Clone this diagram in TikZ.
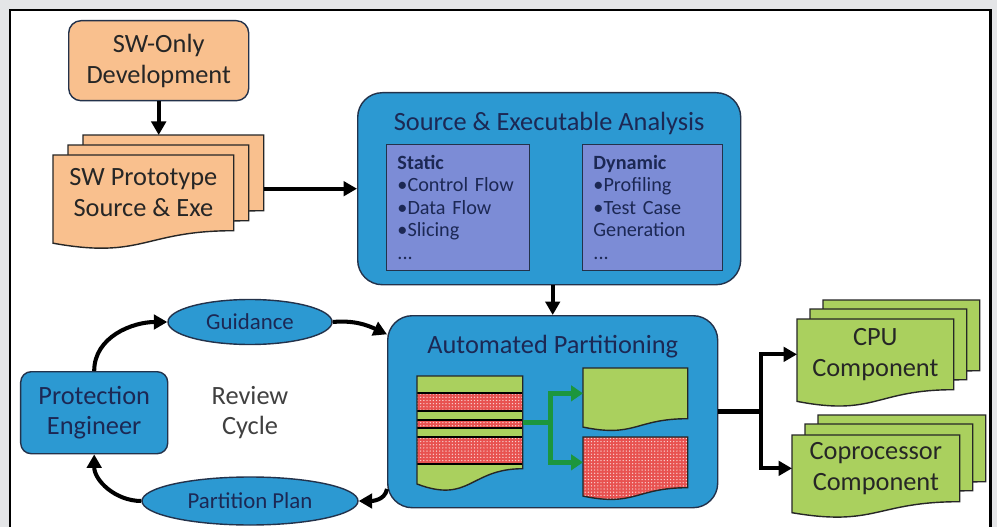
\documentclass[tikz,border=0pt]{standalone}
\usepackage{fontspec}
\setmainfont{Carlito}
\usetikzlibrary{arrows.meta,positioning,calc,shapes.geometric,backgrounds,patterns}
\definecolor{framegray}{RGB}{228,229,231}
\definecolor{docorange}{RGB}{249,192,142}
\definecolor{docgreen}{RGB}{170,208,94}
\definecolor{partred}{RGB}{232,82,80}
\definecolor{boxblue}{RGB}{44,153,210}
\definecolor{innerblue}{RGB}{124,140,214}
\definecolor{navytext}{RGB}{28,40,84}
\definecolor{edgeline}{RGB}{35,50,75}
\definecolor{splitgreen}{RGB}{28,150,62}
% fine speckle for the coprocessor parts
\pgfdeclarepatternformonly{fine dots}{\pgfqpoint{-1pt}{-1pt}}{\pgfqpoint{1pt}{1pt}}{\pgfqpoint{1.8pt}{1.8pt}}{%
  \pgfpathcircle{\pgfqpoint{0pt}{0pt}}{0.4pt}\pgfusepath{fill}}
% document sheet with wavy bottom: #1 command, #2 node, #3 offset
\newcommand{\docpath}[3]{%
  #1 ($(#2.north west)+#3$) -- ($(#2.north east)+#3$) -- ($(#2.south east)+#3$)
    .. controls ($(#2.south)+#3$) and ($(#2.north)!1.38!(#2.south)+#3$)
    .. ($(#2.north west)!1.165!(#2.south west)+#3$) -- cycle;}
\tikzset{
  bigfont/.style={font=\fontsize{15}{17.5}\selectfont},
  bluebox/.style={draw=edgeline, line width=0.8pt, fill=boxblue, text=navytext, align=center, inner sep=0pt, anchor=north west, bigfont},
  orangebox/.style={bluebox, fill=docorange, text=black!85},
  listbox/.style={draw=edgeline, line width=0.5pt, fill=innerblue, text=navytext, align=left, inner xsep=0.22cm, inner ysep=0pt, anchor=north west, font=\fontsize{11.5}{12.8}\selectfont},
  blueoval/.style={ellipse, draw=edgeline, line width=0.8pt, fill=boxblue, text=navytext, inner sep=0pt, font=\fontsize{13}{15}\selectfont},
  docbox/.style={anchor=north west, inner sep=0pt, align=center, text=black!85, bigfont},
  docline/.style={draw=black!85, line width=0.8pt},
  speckle/.style={pattern=fine dots, pattern color=white!75!partred},
  arrow/.style={-{Triangle[length=2.7mm,width=2.9mm]}, line width=2.3pt},
  greenarrow/.style={-{Triangle[length=2.4mm,width=3.1mm]}, line width=3pt, draw=splitgreen}
}
\begin{document}
\begin{tikzpicture}
\useasboundingbox (0,0) rectangle (19.94,-10.54);
\begin{scope}[on background layer]
  \fill[framegray] (0,0) rectangle (19.94,-10.54);
  \filldraw[fill=white, line width=1.7pt] (0.2,-10.8) |- (19.8,-0.2) -- (19.8,-10.8);
\end{scope}

% software side
\node[orangebox, rounded corners=7pt, minimum width=3.6cm, minimum height=1.6cm] (swonly) at (1.36,-0.4) {SW-Only\\Development};
\node[docbox, minimum width=3.6cm, minimum height=1.5cm] (proto) at (1.06,-3.1) {SW Prototype\\Source \& Exe};

% analysis
\node[bluebox, rounded corners=14pt, minimum width=7.66cm, minimum height=3.84cm] (analysis) at (7.14,-1.84) {};
\node[bigfont, text=navytext] (analysistitle) at ($(analysis.north)+(0,-0.62)$) {Source \& Executable Analysis};
\node[listbox, text width=2.42cm, minimum height=2.52cm] (static) at (7.72,-2.88) {\textbf{Static}\\•Control Flow\\•Data Flow\\•Slicing\\...};
\node[listbox, text width=2.36cm, minimum height=2.52cm] (dynamic) at (11.64,-2.88) {\textbf{Dynamic}\\•Profiling\\•Test Case\\Generation\\...};

% partitioning
\node[bluebox, rounded corners=14pt, minimum width=6.6cm, minimum height=3.84cm] (autopart) at (7.74,-6.3) {};
\node[bigfont, text=navytext] (autotitle) at ($(autopart.north)+(0,-0.64)$) {Automated Partitioning};
\node[docbox, minimum width=2.1cm, minimum height=1.84cm] (mixed) at (8.34,-7.52) {};
\node[docbox, minimum width=2.08cm, minimum height=1.0cm] (cpupart) at (11.66,-7.36) {};
\node[docbox, minimum width=2.08cm, minimum height=1.0cm] (copart) at (11.66,-8.74) {};

\docpath{\fill[docgreen]}{mixed}{(0,0)}
\begin{scope}
  \docpath{\clip}{mixed}{(0,0)}
  \foreach \ya/\yb in {7.86/8.22, 8.40/8.56, 8.74/9.28} {
    \fill[partred] (8.34,-\ya) rectangle (10.44,-\yb);
    \fill[speckle] (8.34,-\ya) rectangle (10.44,-\yb);
    \draw[line width=0.8pt] (8.34,-\ya) -- (10.44,-\ya) (8.34,-\yb) -- (10.44,-\yb);
  }
\end{scope}
\docpath{\draw[docline]}{mixed}{(0,0)}
\docpath{\filldraw[docline, fill=docgreen]}{cpupart}{(0,0)}
\docpath{\fill[partred]}{copart}{(0,0)}
\docpath{\fill[speckle]}{copart}{(0,0)}
\docpath{\draw[docline]}{copart}{(0,0)}

\coordinate (greensplit) at ($(mixed.east)+(0.56,0)$);
\draw[line width=3pt, splitgreen] (mixed.east) -- (greensplit);
\draw[greenarrow] (greensplit) |- (cpupart.west);
\draw[greenarrow] (greensplit) |- (copart.west);

% components
\node[docbox, minimum width=3.12cm, minimum height=1.4cm] (cpu) at (15.94,-6.38) {CPU\\Component};
\node[docbox, minimum width=3.34cm, minimum height=1.32cm] (cop) at (15.84,-8.7) {Coprocessor\\Component};

\begin{scope}[on background layer]
  \foreach \dx/\dy in {0.6/0.4, 0.3/0.2, 0/0} {\docpath{\filldraw[docline, fill=docorange]}{proto}{(\dx,\dy)}}
  \foreach \dx/\dy in {0.52/0.38, 0.26/0.2, 0/0} {\docpath{\filldraw[docline, fill=docgreen]}{cpu}{(\dx,\dy)}}
  \foreach \dx/\dy in {0.52/0.4, 0.26/0.22, 0/0} {\docpath{\filldraw[docline, fill=docgreen]}{cop}{(\dx,\dy)}}
\end{scope}

% review cycle
\node[blueoval, minimum width=3.28cm, minimum height=0.9cm] (guidance) at (5.0,-6.44) {Guidance};
\node[blueoval, minimum width=4.32cm, minimum height=0.96cm] (plan) at (5.0,-10.02) {Partition Plan};
\node[bluebox, rounded corners=6pt, minimum width=2.94cm, minimum height=1.64cm] (engineer) at (0.4,-7.42) {Protection\\Engineer};
\node[bigfont, text=black!75, align=center] (review) at (5.0,-8.25) {Review\\Cycle};

% connectors
\coordinate (protoback) at ($(proto.north)+(0.6,0.4)$);
\coordinate (protoout) at ($(proto.east)+(0.6,0)$);
\draw[arrow] (swonly.south) -- (swonly.south |- protoback);
\draw[arrow] (protoout |- analysis.west) -- (analysis.west);
\draw[arrow] (autopart.north |- analysis.south) -- (autopart.north);
\draw[arrow] (engineer.north) to[out=90, in=180] (guidance.west);
\draw[arrow] (guidance.east) to[out=5, in=155] ($(autopart.north west)!0.1!(autopart.south west)$);
\draw[arrow] ($(autopart.north west)!0.9!(autopart.south west)$) to[out=260, in=0] (plan.east);
\draw[arrow] (plan.west) to[out=180, in=270] (engineer.south);

\coordinate (outsplit) at ($(autopart.east)+(0.86,0)$);
\draw[line width=2.8pt] (autopart.east) -- (outsplit);
\draw[arrow] (outsplit) |- (cpu.west);
\draw[arrow] (outsplit) |- (cop.west);
\end{tikzpicture}
\end{document}
